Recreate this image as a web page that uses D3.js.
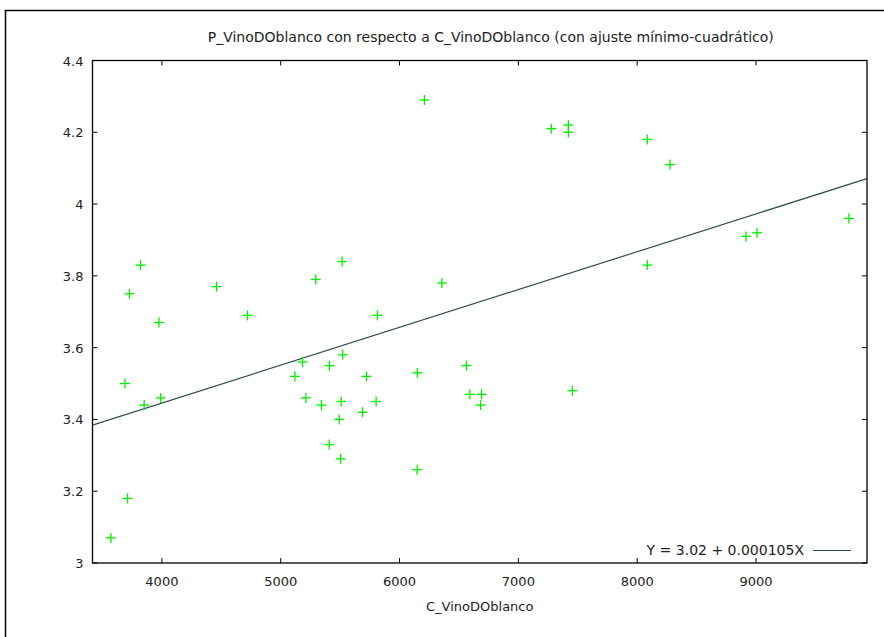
<!DOCTYPE html>
<html>
<head>
<meta charset="utf-8">
<script src="https://cdn.jsdelivr.net/npm/d3@7"></script>
<style>
  body { margin: 0; background: #fff; }
  text { font-family: "DejaVu Sans", Verdana, sans-serif; font-size: 13px; fill: #222; }
  text.big { font-size: 14px; }
</style>
</head>
<body>
<div id="chart"></div>
<script>
// Data
var consumo = [3571, 3711, 3851, 3990, 3689, 3727, 3820, 3975, 4459, 4720,
  5119, 5183, 5212, 5295, 5343, 5410, 5408, 5492, 5509, 5504,
  5522, 5517, 5688, 5722, 5803, 5814, 6150, 6148, 6356, 6209,
  6563, 6592, 6690, 6682, 7454, 7278, 7421, 7421, 8085, 8085,
  8276, 8916, 9009, 9782];
var precio = [3.07, 3.18, 3.44, 3.46, 3.50, 3.75, 3.83, 3.67, 3.77, 3.69,
  3.52, 3.56, 3.46, 3.79, 3.44, 3.55, 3.33, 3.40, 3.45, 3.29,
  3.58, 3.84, 3.42, 3.52, 3.45, 3.69, 3.53, 3.26, 3.78, 4.29,
  3.55, 3.47, 3.47, 3.44, 3.48, 4.21, 4.22, 4.20, 4.18, 3.83,
  4.11, 3.91, 3.92, 3.96];
var xTicks = [4000, 5000, 6000, 7000, 8000, 9000];
var yTicks = [3, 3.2, 3.4, 3.6, 3.8, 4, 4.2, 4.4];
var xRange = [3416, 9934];
var yRange = [3, 4.4];
var fit = { a: 3.024, b: 0.0001054 };
var titulo = "P_VinoDOblanco con respecto a C_VinoDOblanco (con ajuste mínimo-cuadrático)";
var xLabel = "C_VinoDOblanco";
var leyenda = "Y = 3.02 + 0.000105X";

var width = 884, height = 637;
var margin = { top: 60.5, right: 17, bottom: 74, left: 92.5 };

var svg = d3.select("#chart").append("svg")
  .attr("width", width)
  .attr("height", height);

// outer frame (cut off at right and bottom like the original)
svg.append("rect")
  .attr("x", 5.5).attr("y", 10.5)
  .attr("width", width + 10).attr("height", height + 10)
  .attr("fill", "none").attr("stroke", "#000").attr("stroke-width", 1.5);

var x = d3.scaleLinear().domain(xRange).range([margin.left, width - margin.right]);
var y = d3.scaleLinear().domain(yRange).range([height - margin.bottom, margin.top]);

var tick = 5;
var g = svg.append("g").attr("stroke", "#000").attr("stroke-width", 1);

// ticks on all four sides, pointing inward
xTicks.forEach(function(d) {
  g.append("line").attr("x1", x(d)).attr("x2", x(d))
    .attr("y1", y.range()[0]).attr("y2", y.range()[0] - tick);
  g.append("line").attr("x1", x(d)).attr("x2", x(d))
    .attr("y1", y.range()[1]).attr("y2", y.range()[1] + tick);
});
yTicks.forEach(function(d) {
  g.append("line").attr("x1", x.range()[0]).attr("x2", x.range()[0] + tick)
    .attr("y1", y(d)).attr("y2", y(d));
  g.append("line").attr("x1", x.range()[1]).attr("x2", x.range()[1] - tick)
    .attr("y1", y(d)).attr("y2", y(d));
});

// tick labels
svg.selectAll(".xlab").data(xTicks).enter().append("text")
  .attr("x", function(d) { return x(d); })
  .attr("y", y.range()[0] + 23)
  .attr("text-anchor", "middle")
  .text(function(d) { return d; });
svg.selectAll(".ylab").data(yTicks).enter().append("text")
  .attr("x", x.range()[0] - 9)
  .attr("y", function(d) { return y(d) + 5; })
  .attr("text-anchor", "end")
  .text(function(d) { return d3.format("")(+d.toFixed(1)); });

// fit line
svg.append("line")
  .attr("x1", x(xRange[0])).attr("y1", y(fit.a + fit.b * xRange[0]))
  .attr("x2", x(xRange[1])).attr("y2", y(fit.a + fit.b * xRange[1]))
  .attr("stroke", "#2f4f4f").attr("stroke-width", 1.2);

// points as "+" markers
var s = 5;
var pts = svg.append("g").attr("stroke", "#00ee00").attr("stroke-width", 1.3);
consumo.forEach(function(c, i) {
  var px = x(c), py = y(precio[i]);
  pts.append("line").attr("x1", px - s).attr("x2", px + s).attr("y1", py).attr("y2", py);
  pts.append("line").attr("x1", px).attr("x2", px).attr("y1", py - s).attr("y2", py + s);
});

// legend
svg.append("text")
  .attr("class", "big")
  .attr("x", 804).attr("y", 555)
  .attr("text-anchor", "end")
  .text(leyenda);
svg.append("line")
  .attr("x1", 813).attr("x2", 851).attr("y1", 550.5).attr("y2", 550.5)
  .attr("stroke", "#2f4f4f").attr("stroke-width", 1.2);

// axes frame
svg.append("rect")
  .attr("x", x.range()[0]).attr("y", y.range()[1])
  .attr("width", x.range()[1] - x.range()[0])
  .attr("height", y.range()[0] - y.range()[1])
  .attr("fill", "none").attr("stroke", "#000").attr("stroke-width", 1.3);

// title and axis label
svg.append("text")
  .attr("class", "big")
  .attr("x", (x.range()[0] + x.range()[1]) / 2 + 11).attr("y", 42)
  .attr("text-anchor", "middle")
  .text(titulo);
svg.append("text")
  .attr("x", (x.range()[0] + x.range()[1]) / 2).attr("y", 611)
  .attr("text-anchor", "middle")
  .text(xLabel);
</script>
</body>
</html>
